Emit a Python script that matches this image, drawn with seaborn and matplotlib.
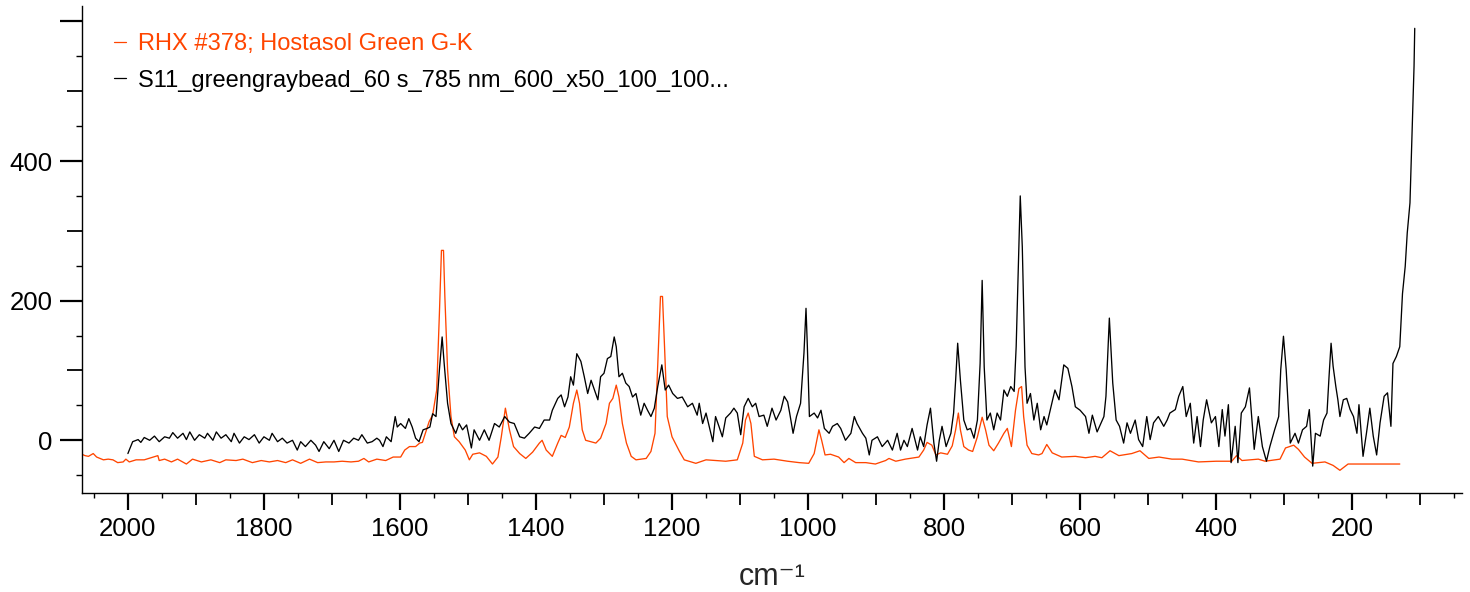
import matplotlib
matplotlib.use("Agg")
import matplotlib.pyplot as plt
from matplotlib.ticker import NullLocator
import seaborn as sns

# ---------------- data ----------------
ref_label = "RHX #378; Hostasol Green G-K"
sample_label = "S11_greengraybead_60 s_785 nm_600_x50_100_100..."

ref_cm = [2070, 2063, 2058, 2051, 2046, 2036, 2029, 2022, 2015, 2007, 2003, 1998, 1988, 1976,
          1966, 1956, 1954, 1946, 1936, 1927, 1914, 1905, 1892, 1878, 1865, 1856, 1841, 1831,
          1817, 1804, 1792, 1780, 1768, 1758, 1746, 1733, 1721, 1709, 1697, 1685, 1672, 1661,
          1653, 1646, 1634, 1621, 1610, 1599, 1593, 1586, 1577, 1571, 1567, 1562, 1557, 1552,
          1546, 1542, 1539, 1536, 1534, 1530, 1525, 1520, 1513, 1504, 1498, 1493, 1483, 1473,
          1464, 1456, 1451, 1445, 1439, 1433, 1424, 1415, 1405, 1395, 1391, 1385, 1376, 1368,
          1363, 1357, 1351, 1345, 1340, 1336, 1332, 1327, 1312, 1305, 1297, 1292, 1287, 1282,
          1278, 1273, 1267, 1260, 1253, 1238, 1231, 1225, 1220, 1217, 1214, 1211, 1207, 1200,
          1189, 1182, 1165, 1150, 1121, 1104, 1096, 1092, 1088, 1084, 1079, 1067, 1050, 1030,
          1013, 999, 991, 984, 980, 975, 967, 955, 947, 940, 930, 915, 901, 886, 881, 871, 857,
          837, 830, 825, 818, 812, 805, 795, 788, 783, 779, 776, 771, 764, 758, 751, 744, 739,
          734, 727, 720, 712, 707, 701, 695, 690, 686, 683, 678, 671, 661, 656, 649, 641, 627,
          607, 592, 578, 568, 556, 543, 524, 512, 499, 484, 465, 450, 426, 400, 377, 370, 362,
          338, 328, 306, 298, 286, 279, 270, 259, 240, 228, 218, 206, 130]
ref_int = [-19, -22, -23, -19, -24, -28, -27, -28, -32, -31, -27, -31, -28, -28,
           -25, -22, -29, -27, -31, -27, -34, -27, -31, -28, -32, -28, -29, -27,
           -32, -29, -31, -29, -32, -28, -33, -27, -32, -31, -31, -30, -31, -30,
           -26, -31, -27, -29, -24, -24, -14, -9, -9, -4, -3, 12, 27, 36,
           72, 182, 272, 272, 206, 101, 34, 5, -2, -14, -28, -20, -18, -23,
           -34, -24, 5, 46, 15, -9, -19, -26, -17, -4, 0, -14, -23, -4,
           7, 4, 19, 53, 72, 53, 15, 0, -4, 3, 24, 53, 60, 79,
           62, 24, -4, -23, -28, -26, -16, 10, 134, 206, 206, 134, 34, 5,
           -16, -28, -33, -28, -30, -28, -4, 29, 39, 24, -23, -28, -27, -30,
           -32, -33, -19, 15, 0, -21, -20, -24, -32, -26, -32, -32, -34, -29, -26, -30, -27,
           -24, -14, -3, -7, -21, -18, -20, -8, 15, 39, 15, -9, -14, -16, 5, 33, 15,
           -7, -15, -4, 10, 17, -9, 43, 74, 77, 34, -7, -19, -21, -19, -6, -18, -24,
           -23, -25, -23, -25, -15, -22, -19, -15, -26, -24, -27, -27, -31, -30, -30, -22, -29,
           -27, -30, -27, -11, -7, -13, -24, -33, -31, -36, -43, -34, -34]

sample_cm = [2000, 1998, 1993, 1985, 1981, 1976, 1968, 1961, 1954, 1946, 1939, 1934, 1927, 1919,
             1914, 1909, 1902, 1895, 1887, 1883, 1875, 1870, 1863, 1856, 1848, 1844, 1836, 1829,
             1822, 1814, 1807, 1800, 1792, 1788, 1780, 1773, 1766, 1758, 1751, 1746, 1739, 1731,
             1724, 1719, 1712, 1704, 1697, 1690, 1683, 1675, 1668, 1661, 1656, 1648, 1641, 1634,
             1630, 1625, 1620, 1613, 1607, 1604, 1599, 1592, 1587, 1582, 1577, 1572, 1566, 1560,
             1556, 1552, 1547, 1542, 1538, 1535, 1530, 1525, 1518, 1513, 1508, 1502, 1495, 1491,
             1483, 1476, 1469, 1461, 1454, 1446, 1439, 1432, 1424, 1417, 1410, 1402, 1395, 1388,
             1380, 1376, 1368, 1363, 1358, 1353, 1349, 1345, 1340, 1334, 1329, 1324, 1319, 1314,
             1309, 1305, 1300, 1295, 1290, 1285, 1282, 1278, 1273, 1268, 1263, 1258, 1253, 1246,
             1241, 1236, 1231, 1226, 1221, 1215, 1210, 1205, 1199, 1192, 1185, 1177, 1170, 1163,
             1160, 1155, 1150, 1140, 1136, 1131, 1126, 1121, 1114, 1109, 1104, 1099, 1094, 1088,
             1082, 1077, 1072, 1065, 1060, 1053, 1047, 1040, 1035, 1030, 1027, 1022, 1017, 1011,
             1006, 1003, 1001, 998, 991, 986, 981, 976, 969, 964, 957, 952, 945, 937, 932, 928,
             920, 915, 910, 906, 898, 891, 883, 876, 869, 864, 859, 854, 847, 839, 835, 830, 825,
             820, 815, 811, 807, 803, 797, 790, 786, 783, 780, 776, 771, 766, 761, 756, 751, 747,
             744, 741, 737, 732, 727, 722, 717, 712, 707, 702, 697, 694, 690, 688, 685, 681, 678,
             673, 668, 663, 658, 653, 649, 644, 637, 631, 624, 618, 612, 607, 600, 592, 587, 582,
             575, 565, 562, 557, 552, 547, 542, 536, 531, 526, 519, 514, 508, 502, 497, 492, 485,
             477, 472, 468, 460, 455, 449, 444, 438, 433, 428, 423, 419, 414, 407, 401, 396, 391,
             387, 382, 378, 372, 368, 363, 357, 351, 347, 344, 338, 332, 326, 321, 314, 308, 305,
             301, 297, 291, 284, 279, 273, 267, 263, 258, 254, 247, 242, 237, 234, 231, 228, 224,
             221, 218, 213, 208, 203, 198, 193, 190, 184, 179, 174, 169, 164, 159, 153, 148, 143,
             140, 135, 130, 126, 122, 119, 115, 112, 109, 108]
sample_int = [-19, -14, -2, 1, -3, 4, 0, 6, -2, 5, 3, 11, 3, 10,
              1, 12, 0, 8, 3, 10, 0, 12, 3, 8, -2, 10, -4, 5,
              1, 8, -4, 5, 0, 10, -2, 3, -4, 0, -14, -2, -9, 0,
              -7, -16, -2, -12, 0, -16, 0, -4, 3, 0, 8, -4, -2, 3,
              0, -9, 5, -2, 34, 19, 24, 17, 31, 19, 3, -2, 15, 17,
              19, 38, 34, 101, 148, 110, 53, 24, 10, 24, 15, 22, -11, 15,
              0, 15, 0, 24, 19, 34, 26, 24, 5, 3, 10, 19, 17, 29,
              29, 43, 60, 65, 48, 62, 91, 79, 124, 113, 91, 67, 86, 72,
              58, 91, 96, 117, 120, 148, 134, 91, 96, 82, 77, 62, 67, 36,
              53, 43, 34, 46, 77, 108, 72, 79, 67, 60, 62, 48, 53, 36,
              53, 24, 39, -2, 34, 20, 5, 32, 39, 46, 39, 8, 48, 60,
              48, 53, 34, 36, 20, 46, 29, 43, 63, 55, 39, 10, 34, 53,
              125, 189, 134, 34, 39, 32, 43, 17, 10, 20, 24, 17, 0, 10, 34, 24,
              10, 3, -21, 0, 5, -9, 0, -14, 10, -14, 0, -9, 17, -14, 5, -9, 22,
              46, -4, -30, 0, 20, -9, 10, 39, 86, 139, 86, 29, 15, 17, 3, 29, 110,
              229, 105, 29, 39, 15, 39, 29, 72, 63, 77, 70, 134, 277, 350, 277, 105, 53,
              67, 29, 53, 15, 34, 22, 43, 72, 58, 108, 103, 77, 48, 43, 34, 10, 36,
              12, 34, 63, 175, 82, 29, 20, -4, 25, 10, 29, 1, -9, 34, 1, 25, 34,
              20, 29, 39, 44, 63, 77, 34, 53, -4, 34, -9, 29, 58, 25, 34, -9, 44,
              6, 51, -32, 20, -32, 39, 48, 75, 25, -13, 34, -9, -30, -9, 15, 34, 101,
              149, 101, -4, 10, -4, 15, 20, 44, -37, 10, 6, 29, 39, 91, 139, 106, 77,
              58, 34, 58, 60, 44, 34, 10, 51, -23, 10, 46, 6, -21, 25, 63, 68, 20,
              110, 120, 134, 210, 249, 297, 340, 440, 536, 590]

x_major = [2000, 1800, 1600, 1400, 1200, 1000, 800, 600, 400, 200]
x_major_labels = ["2000", "1800", "1600", "1400", "1200", "1000", "800", "600", "400", "200"]
x_mid = [1900, 1700, 1500, 1300, 1100, 900, 700, 500, 300, 100]
x_minor = [2050, 1950, 1850, 1750, 1650, 1550, 1450, 1350, 1250, 1150, 1050, 950, 850,
           750, 650, 550, 450, 350, 250, 150, 50]
y_major = [0, 200, 400, 600]
y_major_labels = ["0", "200", "400", ""]
y_mid = [100, 300, 500]
y_minor = [-50, 50, 150, 250, 350, 450, 550]

ORANGE = "#ff4500"

# ---------------- figure ----------------
sns.set_style("ticks")
plt.rcParams["font.family"] = ["Liberation Sans", "DejaVu Sans"]
plt.rcParams["text.color"] = "black"
plt.rcParams["axes.edgecolor"] = "black"
plt.rcParams["xtick.color"] = "black"
plt.rcParams["ytick.color"] = "black"

fig = plt.figure(figsize=(14.7, 5.92), dpi=100)
ax = fig.add_axes([82 / 1470, 99 / 592, 1380 / 1470, 487 / 592])

sns.lineplot(x=ref_cm, y=ref_int, ax=ax, color=ORANGE, linewidth=0.95,
             estimator=None, sort=False, label=ref_label)
sns.lineplot(x=sample_cm, y=sample_int, ax=ax, color="black", linewidth=0.95,
             estimator=None, sort=False, label=sample_label)

ax.set_xlim(2067.5, 38.5)
ax.set_ylim(-75.5, 622)

for s in ["top", "right"]:
    ax.spines[s].set_visible(False)
for s in ["left", "bottom"]:
    ax.spines[s].set_linewidth(1.0)

ax.set_xticks(x_major)
ax.set_xticklabels(x_major_labels)
ax.set_xticks(x_minor, minor=True)
ax.set_yticks(y_major)
ax.set_yticklabels(y_major_labels)
ax.set_yticks(y_minor, minor=True)

ax.tick_params(axis="x", which="major", direction="out", length=12.5, width=1.6,
               labelsize=18.5, pad=5)
ax.tick_params(axis="x", which="minor", direction="out", length=3.8, width=1.0)
ax.tick_params(axis="y", which="major", direction="out", length=16, width=1.6,
               labelsize=18.5, pad=5)
ax.tick_params(axis="y", which="minor", direction="out", length=4.5, width=1.0)

secx = ax.secondary_xaxis("bottom")
secx.set_xticks(x_mid)
secx.xaxis.set_minor_locator(NullLocator())
secx.tick_params(axis="x", which="major", direction="out", length=8.8, width=1.3,
                 labelbottom=False)
secx.spines["bottom"].set_visible(False)

secy = ax.secondary_yaxis("left")
secy.set_yticks(y_mid)
secy.yaxis.set_minor_locator(NullLocator())
secy.tick_params(axis="y", which="major", direction="out", length=11, width=1.3,
                 labelleft=False)
secy.spines["left"].set_visible(False)

ax.set_xlabel("cm\u207b\u00b9", fontsize=22, labelpad=15)
ax.set_ylabel("")

leg = ax.legend(loc="upper left", bbox_to_anchor=(114 / 1470, 1 - 33 / 592),
                bbox_transform=fig.transFigure, frameon=False, fontsize=17,
                handlelength=0.5, handletextpad=0.5, labelspacing=0.62,
                borderpad=0, borderaxespad=0, labelcolor="linecolor")
for h in leg.get_lines():
    h.set_linewidth(0.9)

fig.savefig("out.png", dpi=100)
